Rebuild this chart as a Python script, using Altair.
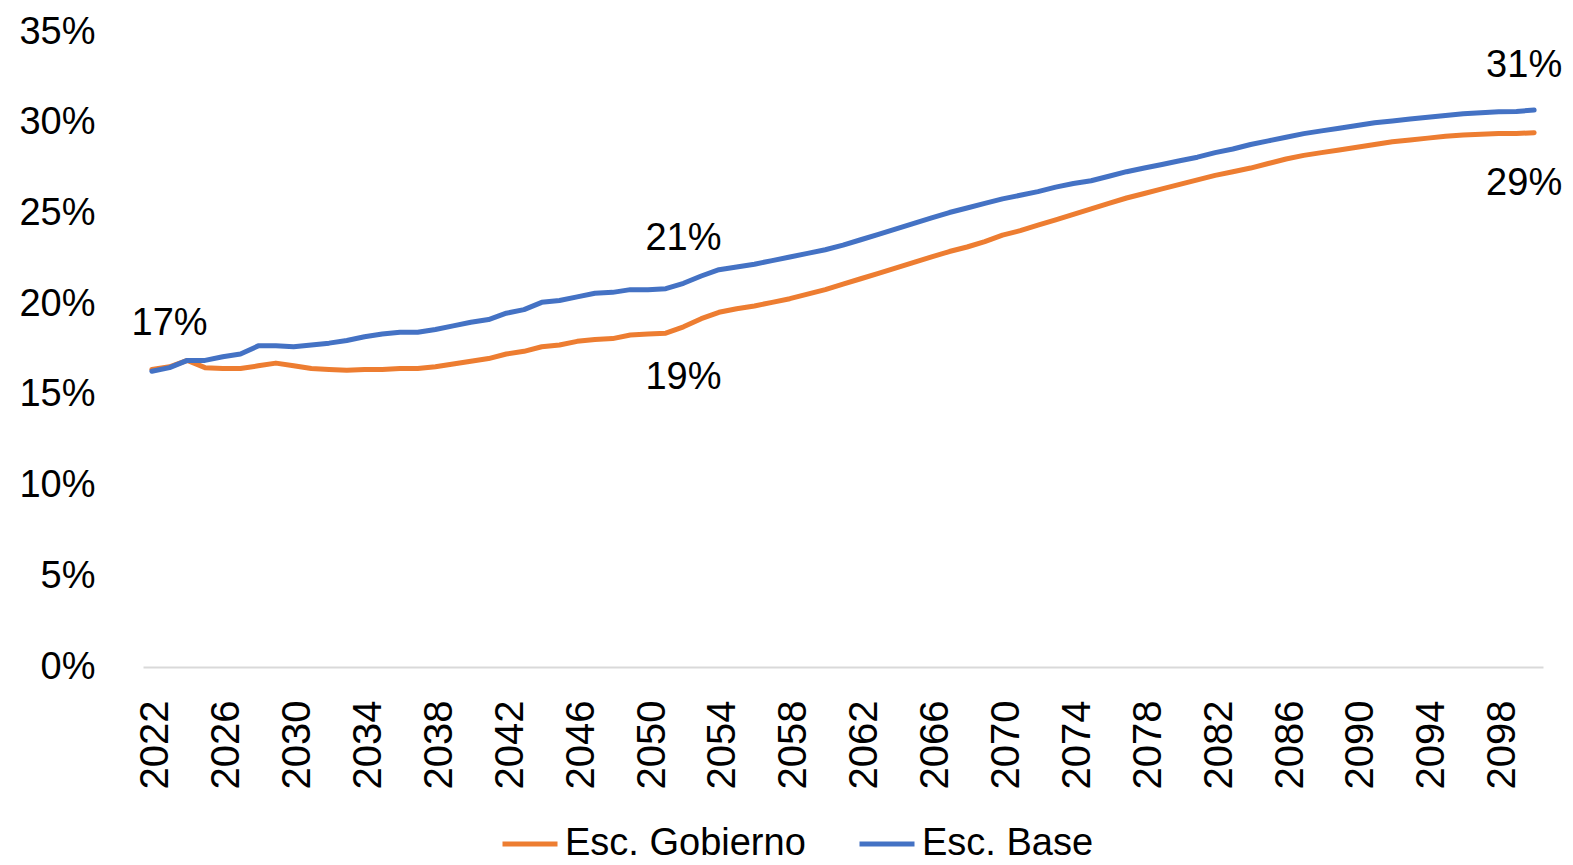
import altair as alt
import pandas as pd

years = list(range(2022, 2101))

base = [16.3, 16.5, 16.9, 16.9, 17.1, 17.25, 17.7, 17.7, 17.65, 17.75,
        17.85, 18.0, 18.2, 18.35, 18.45, 18.45, 18.6, 18.8, 19.0, 19.15,
        19.5, 19.7, 20.1, 20.2, 20.4, 20.6, 20.65, 20.8, 20.8, 20.85,
        21.15, 21.55, 21.9, 22.05, 22.2, 22.4, 22.6, 22.8, 23.0, 23.25,
        23.55, 23.85, 24.15, 24.45, 24.75, 25.05, 25.3, 25.55, 25.8, 26.0,
        26.2, 26.45, 26.65, 26.8, 27.05, 27.3, 27.5, 27.7, 27.9, 28.1,
        28.35, 28.55, 28.8, 29.0, 29.2, 29.4, 29.55, 29.7, 29.85, 30.0,
        30.1, 30.2, 30.3, 30.4, 30.5, 30.55, 30.6, 30.62, 30.7]

gobierno = [16.4, 16.55, 16.9, 16.5, 16.45, 16.45, 16.6, 16.75, 16.6, 16.45,
            16.4, 16.35, 16.4, 16.4, 16.45, 16.45, 16.55, 16.7, 16.85, 17.0,
            17.25, 17.4, 17.65, 17.75, 17.95, 18.05, 18.1, 18.3, 18.35, 18.4,
            18.75, 19.2, 19.55, 19.75, 19.9, 20.1, 20.3, 20.55, 20.8, 21.1,
            21.4, 21.7, 22.0, 22.3, 22.6, 22.9, 23.15, 23.45, 23.8, 24.05,
            24.35, 24.65, 24.95, 25.25, 25.55, 25.85, 26.1, 26.35, 26.6, 26.85,
            27.1, 27.3, 27.5, 27.75, 28.0, 28.2, 28.35, 28.5, 28.65, 28.8,
            28.95, 29.05, 29.15, 29.25, 29.32, 29.37, 29.4, 29.4, 29.45]

series_names = ["Esc. Gobierno", "Esc. Base"]
series_colors = ["#ED7D31", "#4472C4"]

y_ticks = [0, 5, 10, 15, 20, 25, 30, 35]
x_ticks = list(range(2022, 2099, 4))

# data labels: year, series, text, position group
label_years = [2023, 2052, 2052, 2100, 2100]
label_series = ["Esc. Base", "Esc. Base", "Esc. Gobierno", "Esc. Base", "Esc. Gobierno"]
label_texts = ["17%", "21%", "19%", "31%", "29%"]
label_pos = ["above", "above", "below", "above_end", "below_end"]

df = pd.DataFrame({
    "year": years * 2,
    "value": gobierno + base,
    "serie": ["Esc. Gobierno"] * len(years) + ["Esc. Base"] * len(years),
})

lookup = {("Esc. Base", y): v for y, v in zip(years, base)}
lookup.update({("Esc. Gobierno", y): v for y, v in zip(years, gobierno)})
ldf = pd.DataFrame({
    "year": label_years,
    "value": [lookup[(s, y)] for s, y in zip(label_series, label_years)],
    "text": label_texts,
    "pos": label_pos,
})

x_enc = alt.X("year:Q",
              scale=alt.Scale(domain=[2021.5, 2100.5], nice=False, zero=False),
              axis=alt.Axis(values=x_ticks, format="d", labelAngle=270,
                            labelAlign="right", labelBaseline="middle",
                            labelPadding=33, labelFontSize=40, labelFont="Liberation Sans",
                            labelColor="#000000", ticks=False, grid=False,
                            domainColor="#D9D9D9", domainWidth=2, title=None,
                            labelOverlap=False, labelFlush=False, labelOffset=4))
y_enc = alt.Y("value:Q",
              scale=alt.Scale(domain=[0, 35], nice=False),
              axis=alt.Axis(values=y_ticks, labelExpr="datum.value + '%'",
                            labelFontSize=38, labelFont="Liberation Sans",
                            labelColor="#000000", labelPadding=48,
                            ticks=False, domain=False, grid=False, title=None))
color_enc = alt.Color("serie:N",
                      scale=alt.Scale(domain=series_names, range=series_colors),
                      legend=alt.Legend(title=None, orient="none", direction="horizontal",
                                        legendX=357, legendY=782,
                                        symbolType="stroke", symbolSize=3025,
                                        symbolStrokeWidth=5, labelFontSize=38,
                                        labelFont="Liberation Sans", labelColor="#000000",
                                        labelOffset=5, columnPadding=43, padding=0,
                                        labelLimit=0))

line_orange = alt.Chart(df).transform_filter(
    alt.datum.serie == "Esc. Gobierno").mark_line(strokeWidth=5, strokeCap="round", strokeJoin="round").encode(
    x=x_enc, y=y_enc, color=color_enc)
line_blue = alt.Chart(df).transform_filter(
    alt.datum.serie == "Esc. Base").mark_line(strokeWidth=5, strokeCap="round", strokeJoin="round").encode(
    x=x_enc, y=y_enc, color=color_enc)


def label_layer(pos, dx, dy):
    return alt.Chart(ldf).transform_filter(alt.datum.pos == pos).mark_text(
        fontSize=38, font="Liberation Sans", color="#000000", baseline="middle",
        align="center", dx=dx, dy=dy
    ).encode(x="year:Q", y="value:Q", text="text:N")


labels = [
    label_layer("above", 0, -44),
    label_layer("below", 0, 51),
    label_layer("above_end", -10, -44),
    label_layer("below_end", -10, 51),
]

chart = alt.layer(line_orange, line_blue, *labels).properties(
    width=1400, height=635,
    background="white",
    autosize=alt.AutoSizeParams(type="none"),
    padding={"left": 135, "top": 24, "right": 22, "bottom": 198},
).configure_view(strokeWidth=0, stroke="transparent")

chart.save("out.html", embed_options={"renderer": "svg", "actions": False})
